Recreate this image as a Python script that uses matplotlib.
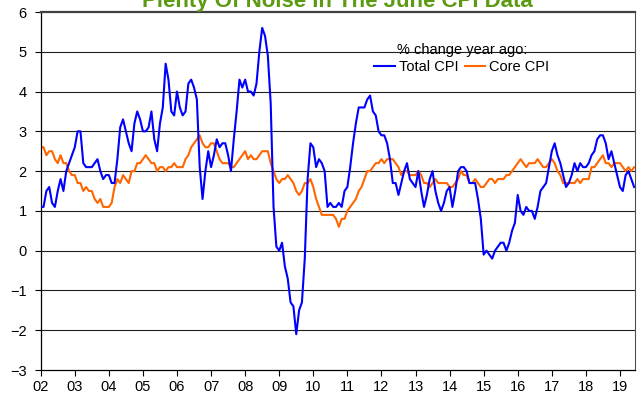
import matplotlib
matplotlib.use("Agg")
import matplotlib.pyplot as plt
import numpy as np

plt.rcParams['font.family'] = ['Liberation Sans', 'DejaVu Sans']

# monthly, Jan 2002 .. Jun 2019, % change year ago
total_cpi = [
    1.1, 1.1, 1.5, 1.6, 1.2, 1.1, 1.5, 1.8, 1.5, 2.0, 2.2, 2.4,   # 2002
    2.6, 3.0, 3.0, 2.2, 2.1, 2.1, 2.1, 2.2, 2.3, 2.0, 1.8, 1.9,   # 2003
    1.9, 1.7, 1.7, 2.3, 3.1, 3.3, 3.0, 2.7, 2.5, 3.2, 3.5, 3.3,   # 2004
    3.0, 3.0, 3.1, 3.5, 2.8, 2.5, 3.2, 3.6, 4.7, 4.3, 3.5, 3.4,   # 2005
    4.0, 3.6, 3.4, 3.5, 4.2, 4.3, 4.1, 3.8, 2.1, 1.3, 2.0, 2.5,   # 2006
    2.1, 2.4, 2.8, 2.6, 2.7, 2.7, 2.4, 2.0, 2.8, 3.5, 4.3, 4.1,   # 2007
    4.3, 4.0, 4.0, 3.9, 4.2, 5.0, 5.6, 5.4, 4.9, 3.7, 1.1, 0.1,   # 2008
    0.0, 0.2, -0.4, -0.7, -1.3, -1.4, -2.1, -1.5, -1.3, -0.2, 1.8, 2.7,  # 2009
    2.6, 2.1, 2.3, 2.2, 2.0, 1.1, 1.2, 1.1, 1.1, 1.2, 1.1, 1.5,   # 2010
    1.6, 2.1, 2.7, 3.2, 3.6, 3.6, 3.6, 3.8, 3.9, 3.5, 3.4, 3.0,   # 2011
    2.9, 2.9, 2.7, 2.3, 1.7, 1.7, 1.4, 1.7, 2.0, 2.2, 1.8, 1.7,   # 2012
    1.6, 2.0, 1.5, 1.1, 1.4, 1.8, 2.0, 1.5, 1.2, 1.0, 1.2, 1.5,   # 2013
    1.6, 1.1, 1.5, 2.0, 2.1, 2.1, 2.0, 1.7, 1.7, 1.7, 1.3, 0.8,   # 2014
    -0.1, 0.0, -0.1, -0.2, 0.0, 0.1, 0.2, 0.2, 0.0, 0.2, 0.5, 0.7,  # 2015
    1.4, 1.0, 0.9, 1.1, 1.0, 1.0, 0.8, 1.1, 1.5, 1.6, 1.7, 2.1,   # 2016
    2.5, 2.7, 2.4, 2.2, 1.9, 1.6, 1.7, 1.9, 2.2, 2.0, 2.2, 2.1,   # 2017
    2.1, 2.2, 2.4, 2.5, 2.8, 2.9, 2.9, 2.7, 2.3, 2.5, 2.2, 1.9,   # 2018
    1.6, 1.5, 1.9, 2.0, 1.8, 1.6,                                 # 2019
]
core_cpi = [
    2.6, 2.6, 2.4, 2.5, 2.5, 2.3, 2.2, 2.4, 2.2, 2.2, 2.0, 1.9,   # 2002
    1.9, 1.7, 1.7, 1.5, 1.6, 1.5, 1.5, 1.3, 1.2, 1.3, 1.1, 1.1,   # 2003
    1.1, 1.2, 1.6, 1.8, 1.7, 1.9, 1.8, 1.7, 2.0, 2.0, 2.2, 2.2,   # 2004
    2.3, 2.4, 2.3, 2.2, 2.2, 2.0, 2.1, 2.1, 2.0, 2.1, 2.1, 2.2,   # 2005
    2.1, 2.1, 2.1, 2.3, 2.4, 2.6, 2.7, 2.8, 2.9, 2.7, 2.6, 2.6,   # 2006
    2.7, 2.7, 2.5, 2.3, 2.2, 2.2, 2.2, 2.1, 2.1, 2.2, 2.3, 2.4,   # 2007
    2.5, 2.3, 2.4, 2.3, 2.3, 2.4, 2.5, 2.5, 2.5, 2.2, 2.0, 1.8,   # 2008
    1.7, 1.8, 1.8, 1.9, 1.8, 1.7, 1.5, 1.4, 1.5, 1.7, 1.7, 1.8,   # 2009
    1.6, 1.3, 1.1, 0.9, 0.9, 0.9, 0.9, 0.9, 0.8, 0.6, 0.8, 0.8,   # 2010
    1.0, 1.1, 1.2, 1.3, 1.5, 1.6, 1.8, 2.0, 2.0, 2.1, 2.2, 2.2,   # 2011
    2.3, 2.2, 2.3, 2.3, 2.3, 2.2, 2.1, 1.9, 2.0, 2.0, 1.9, 1.9,   # 2012
    1.9, 2.0, 1.9, 1.7, 1.7, 1.6, 1.7, 1.8, 1.7, 1.7, 1.7, 1.7,   # 2013
    1.6, 1.6, 1.7, 1.8, 2.0, 1.9, 1.9, 1.7, 1.7, 1.8, 1.7, 1.6,   # 2014
    1.6, 1.7, 1.8, 1.8, 1.7, 1.8, 1.8, 1.8, 1.9, 1.9, 2.0, 2.1,   # 2015
    2.2, 2.3, 2.2, 2.1, 2.2, 2.2, 2.2, 2.3, 2.2, 2.1, 2.1, 2.2,   # 2016
    2.3, 2.2, 2.0, 1.9, 1.7, 1.7, 1.7, 1.7, 1.7, 1.8, 1.7, 1.8,   # 2017
    1.8, 1.8, 2.1, 2.1, 2.2, 2.3, 2.4, 2.2, 2.2, 2.1, 2.2, 2.2,   # 2018
    2.2, 2.1, 2.0, 2.1, 2.0, 2.1,                                 # 2019
]
year_labels = ['02', '03', '04', '05', '06', '07', '08', '09', '10',
               '11', '12', '13', '14', '15', '16', '17', '18', '19']

months = np.arange(len(total_cpi))

fig = plt.figure(figsize=(6.41, 4.0), dpi=100)
ax = fig.add_axes([40.7 / 641, 30 / 400, (635 - 40.7) / 641, 358 / 400])

# gridlines
for v in range(-2, 6):
    ax.axhline(v, color='#202020', lw=0.8, zorder=1)

ax.plot(months, total_cpi, color='#0000FF', lw=1.5, label='Total CPI', zorder=3)
ax.plot(months, core_cpi, color='#FF6600', lw=1.5, label='Core CPI', zorder=2)

ax.set_xlim(0, 209.3)
ax.set_ylim(-3, 6)
ax.set_yticks(range(-3, 7))
ax.set_xticks(np.arange(len(year_labels)) * 12)
ax.set_xticklabels(year_labels)
ax.tick_params(axis='both', direction='out', length=4, width=0.8,
               labelsize=10.5, colors='black')
ax.tick_params(axis='y', pad=6)
ax.tick_params(axis='x', pad=3)

for side in ['left', 'bottom']:
    ax.spines[side].set_color('black')
    ax.spines[side].set_linewidth(0.9)
ax.spines['top'].set_color('#404040')
ax.spines['top'].set_linewidth(1.6)
ax.spines['right'].set_color('#505050')
ax.spines['right'].set_linewidth(0.8)

leg = ax.legend(loc='upper center', bbox_to_anchor=(462 / 641, 1 - 33 / 400),
                bbox_transform=fig.transFigure, ncol=2, frameon=False,
                fontsize=10.5, title='% change year ago:', title_fontsize=10.5,
                handlelength=1.4, handletextpad=0.3, columnspacing=0.4,
                borderpad=0.2, labelspacing=0.2)

fig.text(0.527, 1 - 7 / 400, 'Plenty Of Noise In The June CPI Data',
         ha='center', va='baseline', fontsize=16, fontweight='bold',
         color='#5C9A12')

fig.savefig('out.png', dpi=100)
